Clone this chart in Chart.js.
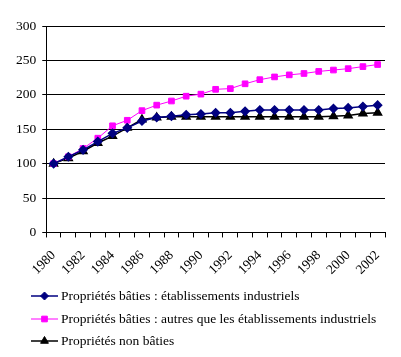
<!DOCTYPE html>
<html>
<head>
<meta charset="utf-8">
<script src="https://cdn.jsdelivr.net/npm/chart.js@4.4.0/dist/chart.umd.min.js"></script>
<style>
html,body{margin:0;padding:0;background:#fff;}
#wrap{width:401px;height:357px;}
</style>
</head>
<body>
<div id="wrap"><canvas id="c" width="401" height="357"></canvas></div>
<script>
const years = ["1980","1981","1982","1983","1984","1985","1986","1987","1988","1989","1990","1991","1992","1993","1994","1995","1996","1997","1998","1999","2000","2001","2002"];
const industriels = [100,110,120,132,144,152,162,167,169,171,172,174,174,176,178,178,178,178,178,180,181,183,185];
const autres = [100,110,122,137,155,163,177,185,191,198,201,208,209,216,222,226,229,231,234,236,238,241,244];
const nonBaties = [100,108,118,130,140,152,164,167,168,168,168,168,168,168,168,168,168,168,168,169,170,173,174];
const yTicks = [0,50,100,150,200,250,300];
const seriesNames = [
  "Propriétés bâties : établissements industriels",
  "Propriétés bâties : autres que les établissements industriels",
  "Propriétés non bâties"
];

const FONT = "'Liberation Serif','Times New Roman',serif";

const legendPlugin = {
  id: 'customLegend',
  afterDraw(chart) {
    const ctx = chart.ctx;
    const rows = [296, 319, 341];
    ctx.save();
    chart.data.datasets.forEach((ds, i) => {
      const y = rows[i];
      ctx.strokeStyle = ds.borderColor;
      ctx.lineWidth = ds.borderWidth;
      ctx.beginPath();
      ctx.moveTo(31, y);
      ctx.lineTo(58, y);
      ctx.stroke();
      ctx.fillStyle = ds.pointBackgroundColor;
      ctx.strokeStyle = ds.pointBorderColor;
      ctx.lineWidth = 1;
      Chart.helpers.drawPoint(ctx, {pointStyle: ds.pointStyle, radius: ds.pointRadius, rotation: 0, borderWidth: 1}, 44.5, y);
      ctx.fillStyle = '#000';
      ctx.font = "13.5px " + FONT;
      ctx.textBaseline = 'middle';
      ctx.textAlign = 'left';
      ctx.fillText(ds.label, 61, y);
    });
    ctx.restore();
  }
};

new Chart(document.getElementById('c'), {
  type: 'line',
  data: {
    labels: years,
    datasets: [
      {label: seriesNames[0], data: industriels, borderColor: '#000080', backgroundColor: '#000080', pointBackgroundColor: '#000080', pointBorderColor: '#000080', pointStyle: 'rectRot', pointRadius: 4, borderWidth: 1.5, tension: 0},
      {label: seriesNames[1], data: autres, borderColor: '#FF00FF', backgroundColor: '#FF00FF', pointBackgroundColor: '#FF00FF', pointBorderColor: '#FF00FF', pointStyle: 'rect', pointRadius: 4, borderWidth: 1, tension: 0},
      {label: seriesNames[2], data: nonBaties, borderColor: '#000000', backgroundColor: '#000000', pointBackgroundColor: '#000000', pointBorderColor: '#000000', pointStyle: 'triangle', pointRadius: 4.5, borderWidth: 1.5, tension: 0}
    ]
  },
  options: {
    responsive: false,
    animation: false,
    devicePixelRatio: 1,
    layout: {padding: {left: 10, right: 16, top: 26, bottom: 69}},
    plugins: {legend: {display: false}, tooltip: {enabled: false}},
    scales: {
      x: {
        type: 'category',
        offset: true,
        grid: {offset: true, drawOnChartArea: false, drawTicks: true, tickLength: 5, color: '#000', lineWidth: 1},
        border: {display: true, color: '#000', width: 1},
        ticks: {
          autoSkip: false, minRotation: 45, maxRotation: 45, color: '#000', padding: 10,
          font: {family: FONT, size: 13.5},
          callback: function(v, i) { return i % 2 === 0 ? years[i] : ''; }
        }
      },
      y: {
        min: 0, max: 300,
        afterBuildTicks: (axis) => { axis.ticks = yTicks.map(v => ({value: v})); },
        grid: {color: '#000', lineWidth: 1, drawTicks: true, tickLength: 4},
        border: {display: true, color: '#000', width: 1},
        ticks: {color: '#000', padding: 6, font: {family: FONT, size: 13.5}}
      }
    }
  },
  plugins: [legendPlugin]
});
</script>
</body>
</html>
